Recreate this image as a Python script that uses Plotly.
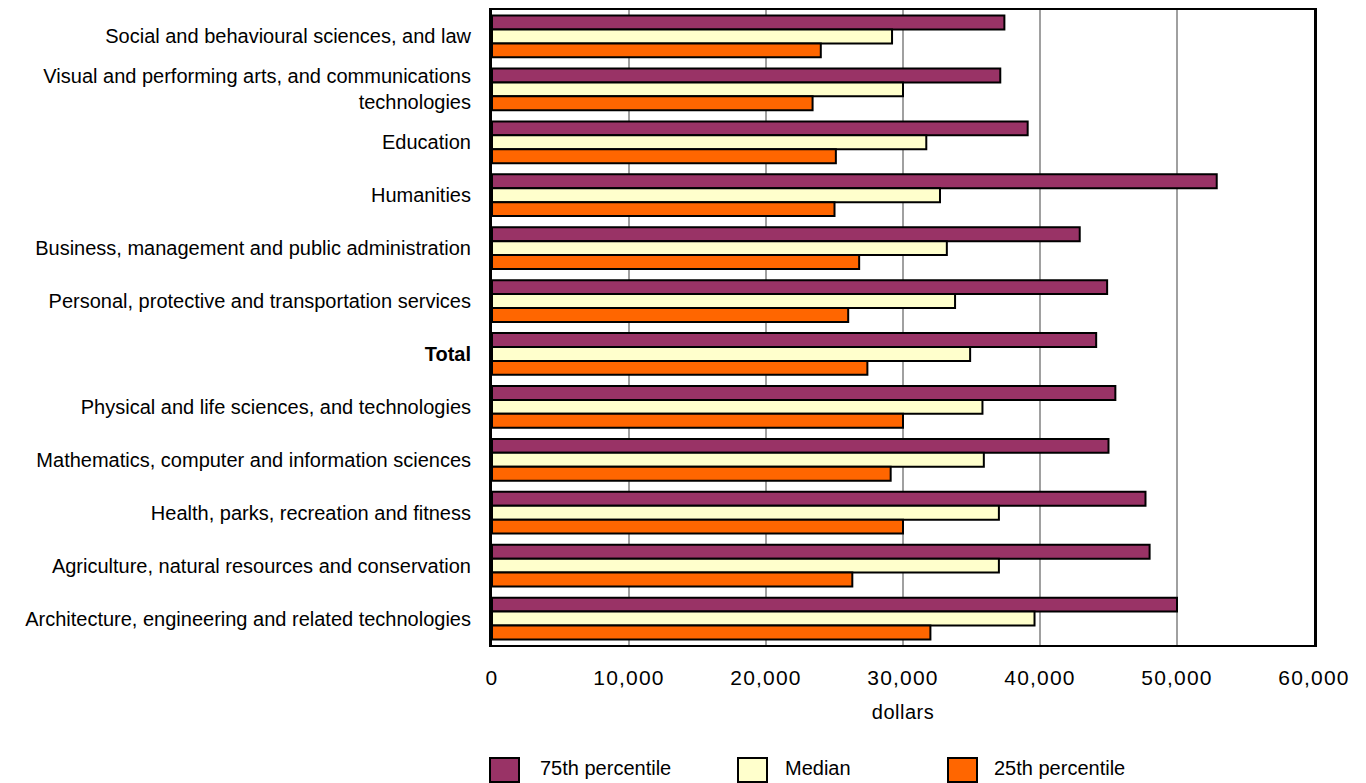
import plotly.graph_objects as go

categories = [
    "Social and behavioural sciences, and law",
    "Visual and performing arts, and communications<br>technologies",
    "Education",
    "Humanities",
    "Business, management and public administration",
    "Personal, protective and transportation services",
    "<b>Total</b>",
    "Physical and life sciences, and technologies",
    "Mathematics, computer and information sciences",
    "Health, parks, recreation and fitness",
    "Agriculture, natural resources and conservation",
    "Architecture, engineering and related technologies",
]

p75 = [37400, 37100, 39100, 52900, 42900, 44900, 44100, 45500, 45000, 47700, 48000, 50000]
median = [29200, 30000, 31700, 32700, 33200, 33800, 34900, 35800, 35900, 37000, 37000, 39600]
p25 = [24000, 23400, 25100, 25000, 26800, 26000, 27400, 30000, 29100, 30000, 26300, 32000]

series_names = ["75th percentile", "Median", "25th percentile"]
series_colors = ["#993366", "#FFFFCC", "#FF6600"]
series_values = [p75, median, p25]

tick_vals = [0, 10000, 20000, 30000, 40000, 50000, 60000]
tick_text = ["0", "10,000", "20,000", "30,000", "40,000", "50,000", "60,000"]

FONT = "Liberation Sans, Arial, sans-serif"

fig = go.Figure()
for name, color, vals in zip(series_names, series_colors, series_values):
    fig.add_trace(go.Bar(
        y=categories, x=vals, name=name, orientation="h",
        marker=dict(color=color, line=dict(color="black", width=2)),
        showlegend=False,
    ))

# plot area geometry in pixels
W, H = 1366, 783
L, R, T, B = 492, 52, 10, 138
pw, ph = W - L - R, H - T - B

def px_x(x):
    return (x - L) / pw

def px_y(y):
    return (H - B - y) / ph

# legend row below the axis: swatch left edge, text left edge
legend_items = [(490, 538), (738, 783), (948, 992)]
for (sq_x, tx_x), name, color in zip(legend_items, series_names, series_colors):
    fig.add_shape(type="rect", xref="paper", yref="paper",
                  x0=px_x(sq_x), x1=px_x(sq_x + 29), y0=px_y(782), y1=px_y(758),
                  fillcolor=color, line=dict(color="black", width=2))
    fig.add_annotation(xref="paper", yref="paper", x=px_x(tx_x), y=px_y(768),
                       text=name, showarrow=False, xanchor="left", yanchor="middle",
                       font=dict(family=FONT, size=20, color="black"))

spaced_ticks = ['<span style="letter-spacing:1.2px">%s</span>' % t for t in tick_text]

fig.update_layout(
    width=W, height=H,
    margin=dict(l=L, r=R, t=T, b=B, autoexpand=False),
    paper_bgcolor="white", plot_bgcolor="white",
    barmode="group", bargap=0.21, bargroupgap=0.0,
    font=dict(family=FONT, size=20, color="black"),
    xaxis=dict(
        range=[0, 60000], tickvals=tick_vals, ticktext=spaced_ticks,
        tickfont=dict(size=21),
        showgrid=True, gridcolor="#A0A0A0", gridwidth=2,
        showline=True, linecolor="black", linewidth=2, mirror=True,
        ticks="", ticklabelstandoff=13, zeroline=False,
        title=dict(text='<span style="letter-spacing:0.5px">dollars</span>',
                   standoff=17, font=dict(family=FONT, size=20)),
    ),
    yaxis=dict(
        autorange="reversed", showgrid=False,
        showline=True, linecolor="black", linewidth=3, mirror=True,
        ticks="", ticklabelstandoff=14,
    ),
)

fig.write_html("out.html")
